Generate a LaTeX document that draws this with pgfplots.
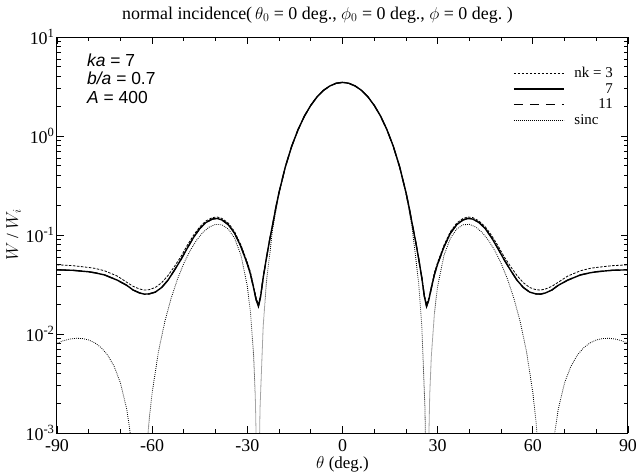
\documentclass[border=0pt]{standalone}
\usepackage{fontspec}
\setmainfont{Liberation Serif}
\newfontfamily\annfont{Liberation Sans}
\usepackage{pgfplots}
\pgfplotsset{compat=1.18}
\usepackage{pgfplotstable}

\pgfplotstableread{
t s3 s7 s11
-90 0.0500 0.0445 0.0445
-85 0.0490 0.0440 0.0440
-80 0.0470 0.0425 0.0425
-78 0.0460 0.0415 0.0415
-75 0.0435 0.0395 0.0395
-71 0.0385 0.0350 0.0350
-68 0.0333 0.0310 0.0310
-66 0.0303 0.0278 0.0278
-64 0.0285 0.0260 0.0260
-62.5 0.0278 0.0253 0.0253
-61 0.0280 0.0254 0.0254
-59 0.0295 0.0265 0.0265
-57 0.0330 0.0295 0.0295
-55 0.0390 0.0350 0.0350
-53 0.0480 0.0440 0.0440
-51 0.0600 0.0560 0.0560
-49 0.0780 0.0730 0.0730
-47 0.0990 0.0940 0.0940
-45 0.1210 0.1160 0.1160
-43 0.1390 0.1340 0.1340
-41 0.1500 0.1450 0.1450
-39.5 0.1520 0.1470 0.1470
-38 0.1470 0.1420 0.1420
-36 0.1320 0.1270 0.1270
-34 0.1080 0.1040 0.1040
-32 0.0790 0.0760 0.0760
-30 0.0530 0.0510 0.0510
-29 0.0420 0.0400 0.0400
-28 0.0300 0.0290 0.0290
-27.2 0.0230 0.0220 0.0220
-26.5 0.0200 0.0190 0.0190
-25.8 0.0250 0.0240 0.0240
-25 0.0380 0.0370 0.0370
-24 0.0580 0.0580 0.0580
-23 0.0880 0.0880 0.0880
-22 0.1280 0.1280 0.1280
-21 0.1900 0.1900 0.1900
-20 0.2700 0.2700 0.2700
-18 0.4900 0.4900 0.4900
-16 0.7900 0.7900 0.7900
-14 1.1600 1.1600 1.1600
-12 1.5900 1.5900 1.5900
-10 2.0400 2.0400 2.0400
-8 2.4900 2.4900 2.4900
-6 2.8900 2.8900 2.8900
-4 3.2000 3.2000 3.2000
-2 3.4100 3.4100 3.4100
0 3.4800 3.4800 3.4800
2 3.4100 3.4100 3.4100
4 3.2000 3.2000 3.2000
6 2.8900 2.8900 2.8900
8 2.4900 2.4900 2.4900
10 2.0400 2.0400 2.0400
12 1.5900 1.5900 1.5900
14 1.1600 1.1600 1.1600
16 0.7900 0.7900 0.7900
18 0.4900 0.4900 0.4900
20 0.2700 0.2700 0.2700
21 0.1900 0.1900 0.1900
22 0.1280 0.1280 0.1280
23 0.0880 0.0880 0.0880
24 0.0580 0.0580 0.0580
25 0.0380 0.0370 0.0370
25.8 0.0250 0.0240 0.0240
26.5 0.0200 0.0190 0.0190
27.2 0.0230 0.0220 0.0220
28 0.0300 0.0290 0.0290
29 0.0420 0.0400 0.0400
30 0.0530 0.0510 0.0510
32 0.0790 0.0760 0.0760
34 0.1080 0.1040 0.1040
36 0.1320 0.1270 0.1270
38 0.1470 0.1420 0.1420
39.5 0.1520 0.1470 0.1470
41 0.1500 0.1450 0.1450
43 0.1390 0.1340 0.1340
45 0.1210 0.1160 0.1160
47 0.0990 0.0940 0.0940
49 0.0780 0.0730 0.0730
51 0.0600 0.0560 0.0560
53 0.0480 0.0440 0.0440
55 0.0390 0.0350 0.0350
57 0.0330 0.0295 0.0295
59 0.0295 0.0265 0.0265
61 0.0280 0.0254 0.0254
62.5 0.0278 0.0253 0.0253
64 0.0285 0.0260 0.0260
66 0.0303 0.0278 0.0278
68 0.0333 0.0310 0.0310
71 0.0385 0.0350 0.0350
75 0.0435 0.0395 0.0395
78 0.0460 0.0415 0.0415
80 0.0470 0.0425 0.0425
85 0.0490 0.0440 0.0440
90 0.0500 0.0445 0.0445
}\nkdata

\pgfplotstableread{
t w
-90 0.00804
-88 0.00855
-86 0.00889
-84 0.00905
-82 0.00900
-80 0.00870
-78 0.00812
-76 0.00725
-74 0.00610
-72 0.00472
-70 0.00321
-68 0.00173
-67 0.00105
-66 0.00052
-63.85 0.000001
-62 0.000516
-61 0.001314
-60 0.00256
-58 0.006679
-56 0.01339
-54 0.02309
-52 0.03594
-50 0.05174
-48 0.06976
-46 0.0886
-44 0.1063
-42 0.1204
-40 0.1281
-38 0.1268
-36 0.1149
-34 0.09258
-32 0.06244
-30 0.03043
-29 0.01651
-28 0.00594
-27.5 0.00243
-27 0.000406
-26.67 0.000001
-26.4 0.00027
-26 0.00177
-25 0.0120
-24 0.03309
-22 0.1157
-20 0.2638
-18 0.4872
-16 0.788
-14 1.160
-12 1.586
-10 2.039
-8 2.486
-6 2.886
-4 3.204
-2 3.409
0 3.48
2 3.409
4 3.204
6 2.886
8 2.486
10 2.039
12 1.586
14 1.160
16 0.788
18 0.4872
20 0.2638
22 0.1157
24 0.03309
25 0.0120
26 0.00177
26.4 0.00027
26.67 0.000001
27 0.000406
27.5 0.00243
28 0.00594
29 0.01651
30 0.03043
32 0.06244
34 0.09258
36 0.1149
38 0.1268
40 0.1281
42 0.1204
44 0.1063
46 0.0886
48 0.06976
50 0.05174
52 0.03594
54 0.02309
56 0.01339
58 0.006679
60 0.00256
61 0.001314
62 0.000516
63.85 0.000001
66 0.00052
67 0.00105
68 0.00173
70 0.00321
72 0.00472
74 0.00610
76 0.00725
78 0.00812
80 0.00870
82 0.00900
84 0.00905
86 0.00889
88 0.00855
90 0.00804
}\sincdata

\begin{document}
\begin{tikzpicture}
\useasboundingbox (-57bp,-39bp) rectangle (580bp,433bp);
\begin{axis}[
  at={(0,0)}, anchor=south west,
  scale only axis, width=571bp, height=396bp,
  ymode=log, xmin=-90, xmax=90, ymin=1e-3, ymax=10,
  xtick={-90,-60,-30,0,30,60,90},
  xticklabels={-90,-60,-30,0,30,60,90},
  minor xtick={-80,-70,-50,-40,-20,-10,10,20,40,50,70,80},
  ytick={1e-3,1e-2,1e-1,1,10},
  yticklabels={10\textsuperscript{-3},10\textsuperscript{-2},10\textsuperscript{-1},10\textsuperscript{0},10\textsuperscript{1}},
  tick align=inside,
  major tick length=7bp, minor tick length=4bp,
  tick style={black, line width=0.8bp},
  axis line style={line width=1bp},
  ticklabel style={font=\fontsize{18}{20}\selectfont},
  xticklabel style={anchor=base, yshift=-18bp},
  yticklabel style={xshift=1bp},
  xlabel={$\theta$ (deg.)},
  ylabel={$W$ / $W_i$},
  label style={font=\fontsize{17}{19}\selectfont},
  xlabel style={at={(axis description cs:0.5,0)}, anchor=base, yshift=-35.5bp},
  ylabel style={yshift=-2bp},
  title={normal incidence(\,$\theta_0$ = 0 deg., $\phi_0$ = 0 deg., $\phi$ = 0 deg.\ )},
  title style={font=\fontsize{18}{20}\selectfont, anchor=base, yshift=12bp, xshift=-25bp},
  legend cell align=left,
  legend style={at={(1,1)}, anchor=north east, xshift=-13bp, yshift=-28bp,
    draw=none, fill=none, font=\fontsize{15}{17}\selectfont,
    row sep=0.3bp, inner sep=0pt},
  legend image code/.code={\draw[#1] (0bp,0bp) -- (50bp,0bp); \path (58bp,0bp);},
]
\addplot[black, line width=0.8bp, dash pattern=on 2.5bp off 1.5bp] table[x=t,y=s3]{\nkdata};
\addlegendentry{nk = 3}
\addplot[black, line width=1.4bp] table[x=t,y=s7]{\nkdata};
\addlegendentry{\hphantom{nk = 3}\llap{7}}
\addplot[black, line width=1.2bp, dash pattern=on 9bp off 7bp] table[x=t,y=s11]{\nkdata};
\addlegendentry{\hphantom{nk = 3}\llap{11}}
\addplot[black, line width=0.8bp, dash pattern=on 0.8bp off 1.2bp] table[x=t,y=w]{\sincdata};
\addlegendentry{sinc}
\node[anchor=base west, inner sep=0pt, font=\annfont\fontsize{17.5}{19}\selectfont]
  at (rel axis cs:0.0525,0.925) {\textit{ka} = 7};
\node[anchor=base west, inner sep=0pt, font=\annfont\fontsize{17.5}{19}\selectfont]
  at (rel axis cs:0.0525,0.879) {\textit{b/a} = 0.7};
\node[anchor=base west, inner sep=0pt, font=\annfont\fontsize{17.5}{19}\selectfont]
  at (rel axis cs:0.0525,0.833) {\textit{A} = 400};
\end{axis}
\end{tikzpicture}
\end{document}
